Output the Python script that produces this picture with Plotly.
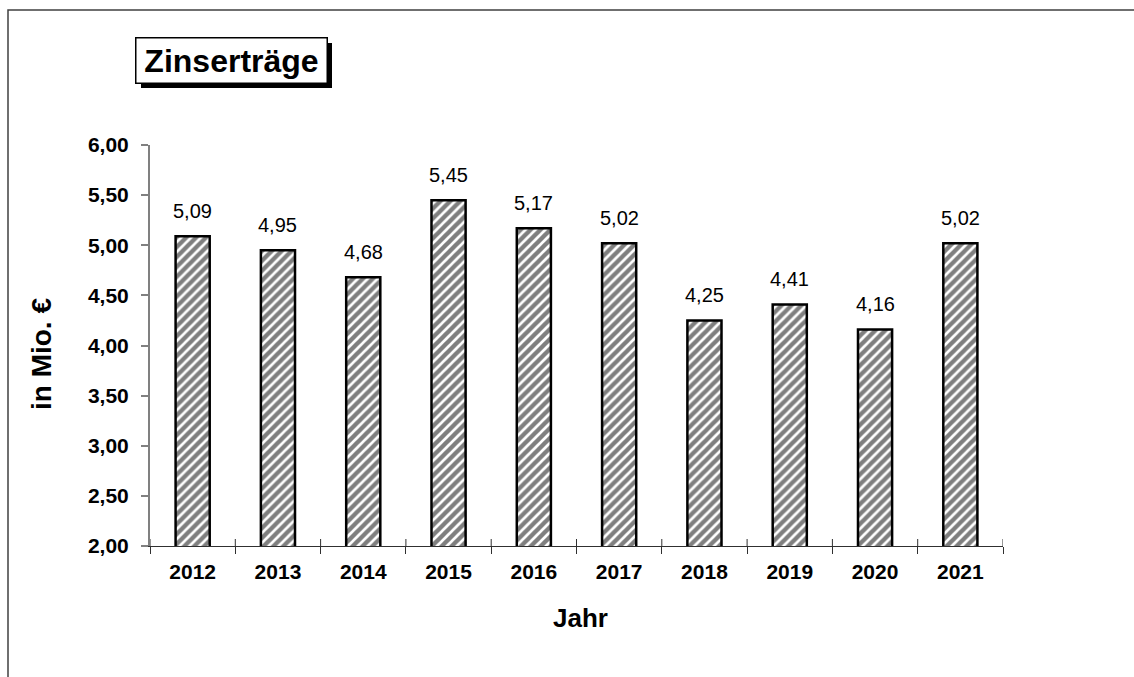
import plotly.graph_objects as go

years = ["2012", "2013", "2014", "2015", "2016", "2017", "2018", "2019", "2020", "2021"]
values = [5.09, 4.95, 4.68, 5.45, 5.17, 5.02, 4.25, 4.41, 4.16, 5.02]
y_ticks = [2.0, 2.5, 3.0, 3.5, 4.0, 4.5, 5.0, 5.5, 6.0]
title_text = "Zinserträge"
x_title = "Jahr"
y_title = "in Mio. €"

W, H = 1134, 677
L, R, T, B = 150, 131, 145, 131
pw, ph = W - L - R, H - T - B

def px(x):
    return (x - L) / pw

def py(y):
    return (H - B - y) / ph

FONT = "Liberation Sans, Arial, sans-serif"

labels = [f"{v:.2f}".replace(".", ",") for v in values]
xrange_ = [-0.5, len(years) - 0.5]

fig = go.Figure()
fig.add_trace(go.Bar(
    x=years, y=values, width=0.4,
    marker=dict(color="white",
                line=dict(color="black", width=2.5),
                pattern=dict(shape="/", fgcolor="black", bgcolor="white", size=7, solidity=0.62)),
    showlegend=False,
))

# value labels above bars (category index as x position)
for i, (v, lab) in enumerate(zip(values, labels)):
    fig.add_annotation(x=i, y=v, xref="x", yref="y", text=lab, showarrow=False,
                       xanchor="center", yanchor="bottom", yshift=12,
                       font=dict(family=FONT, size=20, color="black"))

# inner half of the category boundary ticks (ticks cross the axis)
for i in range(len(years) + 1):
    fig.add_shape(type="line", xref="x", yref="y domain", x0=i - 0.5, x1=i - 0.5,
                  y0=0, y1=7 / ph, line=dict(color="#303030", width=1))

fig.update_layout(
    width=W, height=H,
    margin=dict(l=L, r=R, t=T, b=B),
    paper_bgcolor="white", plot_bgcolor="white",
    separators=",.",
    font=dict(family=FONT, color="black"),
    xaxis=dict(
        type="category", range=xrange_, tickson="boundaries", ticks="outside", ticklen=7, tickwidth=1,
        tickcolor="#303030", showline=True, linecolor="#303030", linewidth=1.2,
        showgrid=False, zeroline=False, ticklabelstandoff=7,
        tickfont=dict(family=FONT, size=21, color="black", weight="bold"),
    ),
    yaxis=dict(
        range=[2, 6], tickvals=y_ticks, tickformat=".2f",
        ticks="outside", ticklen=7, tickwidth=1.5, tickcolor="#808080",
        showline=True, linecolor="#808080", linewidth=2,
        showgrid=False, zeroline=False, ticklabelstandoff=8,
        tickfont=dict(family=FONT, size=21, color="black", weight="bold"),
    ),
)

# axis titles
fig.add_annotation(xref="paper", yref="paper", x=px(41), y=py(354), xanchor="center", yanchor="middle",
                   text=f"<b>{y_title}</b>", textangle=-90, showarrow=False,
                   font=dict(family=FONT, size=28, color="black"))
fig.add_annotation(xref="paper", yref="paper", x=px(580), y=py(618), xanchor="center", yanchor="middle",
                   text=f"<b>{x_title}</b>", showarrow=False,
                   font=dict(family=FONT, size=26, color="black"))

# outer frame
fig.add_shape(type="rect", xref="paper", yref="paper",
              x0=px(8), x1=px(W + 10), y0=py(H + 10), y1=py(10),
              line=dict(color="#404040", width=1.5), fillcolor="rgba(0,0,0,0)", layer="below")
# title shadow
fig.add_shape(type="rect", xref="paper", yref="paper",
              x0=px(141), x1=px(332), y0=py(88), y1=py(43),
              line=dict(width=0), fillcolor="black")
fig.add_annotation(
    xref="paper", yref="paper", x=px(231), y=py(60), xanchor="center", yanchor="middle",
    text=f"<b>{title_text}</b>", showarrow=False,
    font=dict(family=FONT, size=32, color="black"),
    bgcolor="white", bordercolor="black", borderwidth=1.5,
    width=186, height=40, borderpad=2,
)

fig.write_html("out.html")
